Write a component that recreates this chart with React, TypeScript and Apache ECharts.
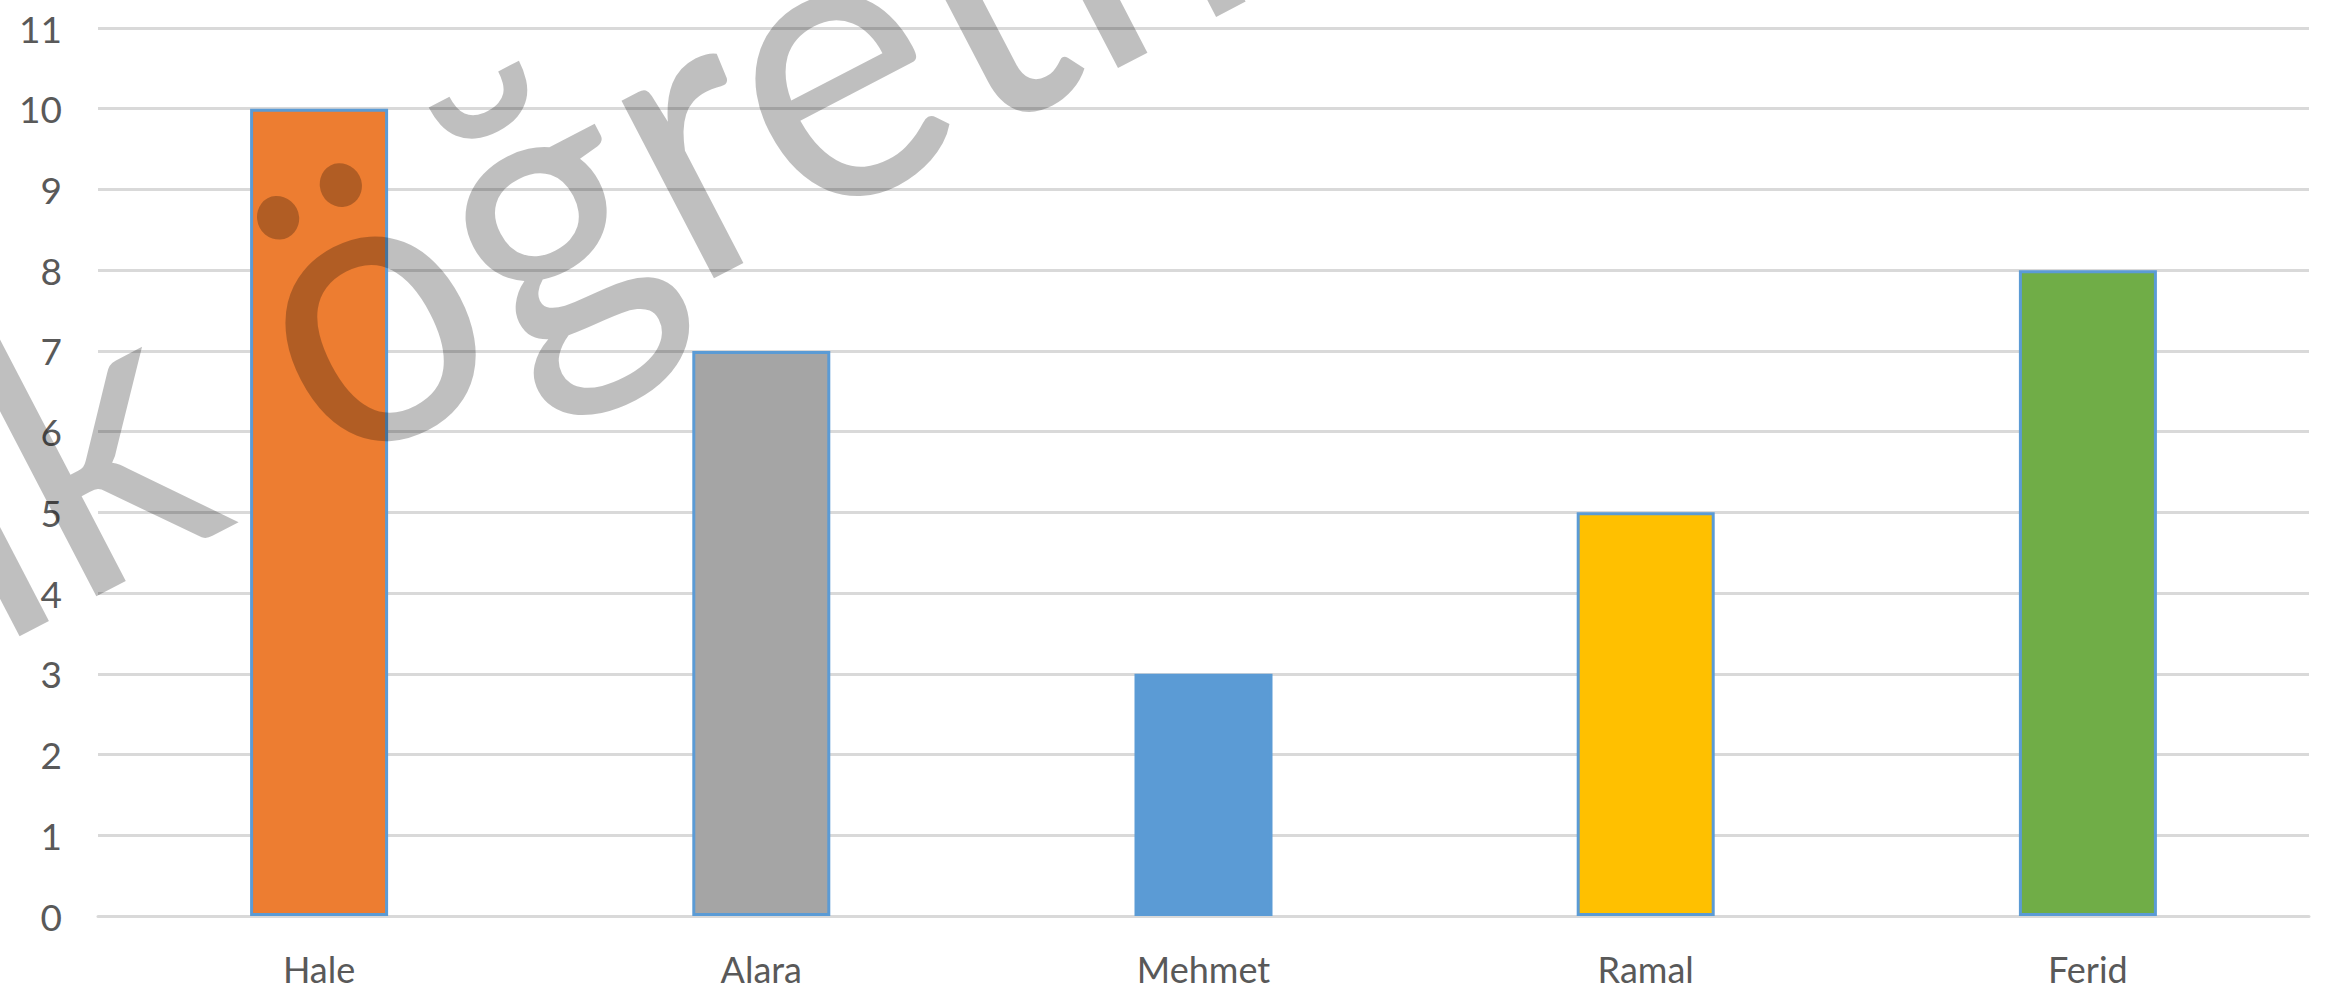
import React, { useEffect, useRef } from "react";
import * as echarts from "echarts";

const categories = ["Hale", "Alara", "Mehmet", "Ramal", "Ferid"];
const values = [10, 7, 3, 5, 8];
const barColors = ["#ED7D31", "#A5A5A5", "#5B9BD5", "#FFC000", "#70AD47"];
const yMin = 0;
const yMax = 11;
const yStep = 1;
const watermarkHead = "İlk";
const watermarkTail = "öğretmen";

export default function App() {
  const ref = useRef<HTMLDivElement>(null);
  useEffect(() => {
    if (!ref.current) return;
    const chart = echarts.init(ref.current, null, { renderer: "svg" });
    const angle = (27.5 * Math.PI) / 180;
    const wmStyle = {
      fill: "rgba(0,0,0,0.25)",
      font: "395px Lato",
      textVerticalAlign: "middle",
    };
    const option = {
      animation: false,
      backgroundColor: "#ffffff",
      grid: { left: 98, right: 23, top: 28, bottom: 76, containLabel: false },
      xAxis: {
        type: "category",
        data: categories,
        axisLine: { show: true, lineStyle: { color: "#D9D9D9", width: 3 } },
        axisTick: { show: false },
        axisLabel: {
          color: "#595959",
          fontSize: 36,
          lineHeight: 36,
          fontFamily: "Lato",
          margin: 35,
        },
      },
      yAxis: {
        type: "value",
        min: yMin,
        max: yMax,
        interval: yStep,
        axisLine: { show: false },
        axisTick: { show: false },
        splitLine: { lineStyle: { color: "#D9D9D9", width: 3 } },
        axisLabel: { color: "#595959", fontSize: 37, fontFamily: "Lato", margin: 36 },
      },
      series: [
        {
          type: "bar",
          barWidth: 138,
          data: values.map((v, i) => ({
            value: v,
            itemStyle: { color: barColors[i], borderColor: "#5B9BD5", borderWidth: 3 },
          })),
        },
      ],
      graphic: [
        {
          type: "text",
          z: 100,
          x: 263,
          y: 341,
          rotation: angle,
          scaleX: 0.94,
          silent: true,
          style: { ...wmStyle, text: watermarkTail, textAlign: "left" },
        },
        {
          type: "text",
          z: 100,
          x: 170,
          y: 386,
          rotation: angle,
          scaleX: 0.94,
          silent: true,
          style: { ...wmStyle, text: watermarkHead, textAlign: "right" },
        },
      ],
    };
    chart.setOption(option);
    return () => chart.dispose();
  }, []);
  return (
    <div
      ref={ref}
      style={{ position: "absolute", left: 0, top: 0, width: 2332, height: 992, background: "#fff" }}
    />
  );
}
